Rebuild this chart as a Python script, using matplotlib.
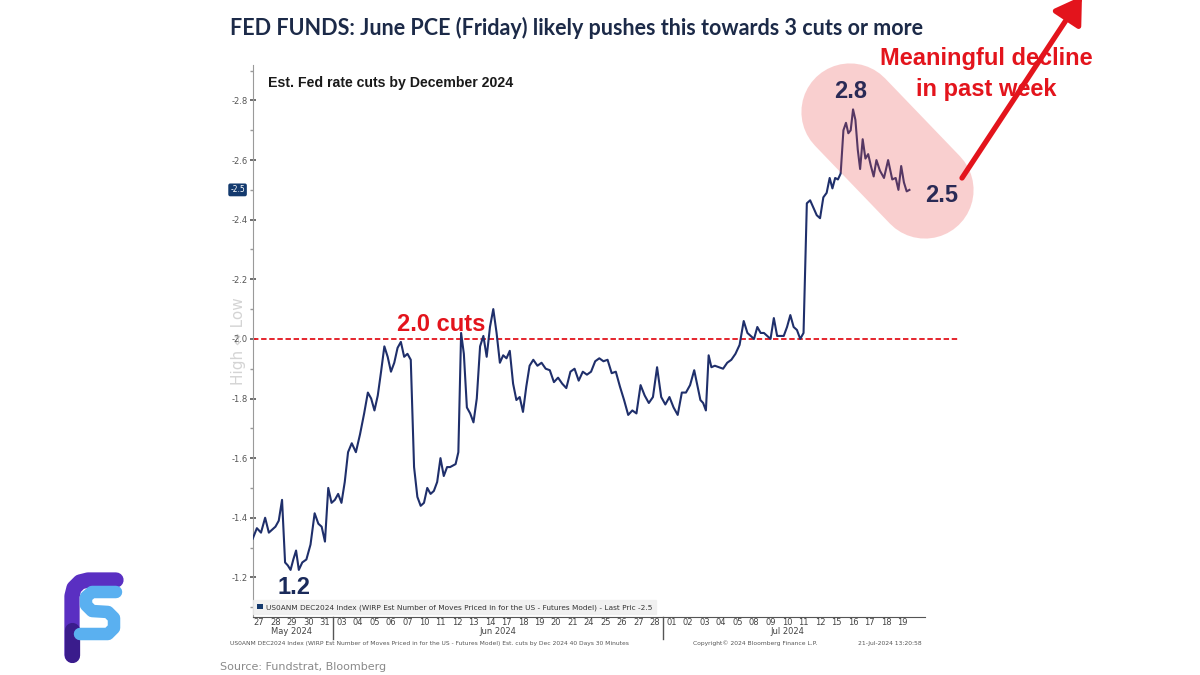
import numpy as np
import matplotlib
matplotlib.use("Agg")
import matplotlib.pyplot as plt
from matplotlib import font_manager
from matplotlib.lines import Line2D
from matplotlib.patches import FancyArrowPatch, Patch
import matplotlib.transforms as mtransforms

# trading days on the x axis (30 min bars, 40 days)
day_labels = ['27', '28', '29', '30', '31',
              '03', '04', '05', '06', '07', '10', '11', '12', '13', '14',
              '17', '18', '19', '20', '21', '24', '25', '26', '27', '28',
              '01', '02', '03', '04', '05', '08', '09', '10', '11', '12',
              '15', '16', '17', '18', '19']
months = ['May 2024', 'Jun 2024', 'Jul 2024']
month_days = [5, 20, 15]

# est. number of cuts priced by Dec 2024, readings through each day
cuts_by_day = [
    [1.33, 1.365, 1.35, 1.40],
    [1.35, 1.36, 1.37, 1.39, 1.46],
    [1.25, 1.24, 1.225, 1.26, 1.29, 1.225],
    [1.25, 1.26, 1.31, 1.415],
    [1.38, 1.37, 1.32, 1.50, 1.45],
    [1.46, 1.48, 1.45, 1.52, 1.62],
    [1.65, 1.62, 1.68, 1.75],
    [1.82, 1.80, 1.76, 1.81, 1.89],
    [1.975, 1.94, 1.89, 1.92, 1.97],
    [1.99, 1.94, 1.95, 1.93, 1.57],
    [1.47, 1.44, 1.45, 1.50, 1.48],
    [1.49, 1.52, 1.60, 1.54, 1.57],
    [1.57, 1.575, 1.58, 1.62, 2.02, 1.95],
    [1.77, 1.75, 1.72, 1.80, 1.975],
    [2.01, 1.94, 2.04, 2.10, 2.02],
    [1.92, 1.945, 1.935, 1.96, 1.85],
    [1.795, 1.805, 1.755, 1.84, 1.91],
    [1.93, 1.91, 1.92, 1.90],
    [1.895, 1.855, 1.87, 1.85],
    [1.835, 1.89, 1.90, 1.86],
    [1.89, 1.88, 1.89, 1.925],
    [1.935, 1.925, 1.93, 1.885],
    [1.89, 1.84, 1.795, 1.745],
    [1.76, 1.75, 1.845, 1.81],
    [1.785, 1.805, 1.905, 1.805],
    [1.78, 1.805, 1.77, 1.745],
    [1.82, 1.82, 1.845, 1.895],
    [1.84, 1.795, 1.785, 1.76, 1.945, 1.905],
    [1.91, 1.905, 1.90, 1.92],
    [1.93, 1.95, 1.98, 2.06],
    [2.02, 2.01, 2.00, 2.04, 2.02],
    [2.02, 2.01, 2.00, 2.07, 2.01],
    [2.01, 2.01, 2.04, 2.08, 2.04],
    [2.03, 2.00, 2.02, 2.455, 2.465],
    [2.44, 2.415, 2.405, 2.475, 2.49],
    [2.54, 2.505, 2.54, 2.535, 2.555, 2.70],
    [2.725, 2.69, 2.70, 2.77, 2.735, 2.635, 2.57],
    [2.67, 2.605, 2.62, 2.58, 2.545, 2.60],
    [2.565, 2.54, 2.60, 2.535],
    [2.54, 2.50, 2.58, 2.525, 2.495, 2.50],
]
last_price = -2.5
ref_level = -2.0

available = {f.name for f in font_manager.fontManager.ttflist}
narrow = 'Liberation Sans Narrow' if 'Liberation Sans Narrow' in available else 'Liberation Sans'

NAVY = '#1f2f6b'
RED = '#e3141c'

# spread the readings of each day evenly through that day
t, v = [], []
for i, vals in enumerate(cuts_by_day):
    n = len(vals)
    for j, val in enumerate(vals):
        t.append(i + (j + 0.5) / n)
        v.append(-val)   # Bloomberg index is negative

W, H = 1200, 675
fig = plt.figure(figsize=(12, 6.75), dpi=100)
fig.patch.set_facecolor('white')


def fx(px):
    return px / W


def fy(py):
    return 1 - py / H


ax = fig.add_axes([fx(253), fy(617), fx(925) - fx(253), fy(65) - fy(617)])
ax.plot(t, v, color=NAVY, lw=1.5, zorder=3)
ax.set_xlim(0.14, 40.86)
ax.set_ylim(-1.067, -2.919)

ax.axhline(ref_level, xmin=0, xmax=1.05, color=RED, lw=1.3, ls=(0, (3, 1.5)),
           clip_on=False, zorder=2)

for s in ['top', 'right']:
    ax.spines[s].set_visible(False)
ax.spines['left'].set_color('#9a9a9a')
ax.spines['bottom'].set_color('#555555')

ax.set_yticks(np.arange(-2.8, -1.1, 0.2))
ax.set_yticklabels([f'{x:.1f}' for x in np.arange(-2.8, -1.1, 0.2)])
ax.set_yticks(np.arange(-2.9, -1.0, 0.2), minor=True)
ax.tick_params(axis='y', which='major', direction='inout', length=5, width=1.2,
               color='#555555', labelsize=6, labelcolor='#555555', pad=1)
ax.tick_params(axis='y', which='minor', direction='out', length=2.5, width=1,
               color='#9a9a9a')

ax.set_xticks(np.arange(len(day_labels)) + 0.5)
ax.set_xticklabels(day_labels)
ax.tick_params(axis='x', length=0, labelsize=6, labelcolor='#444444', pad=0.5)

# month labels and separators
trans = mtransforms.blended_transform_factory(ax.transData, ax.transAxes)
start = 0
for name, n in zip(months, month_days):
    ax.text(start + n / 2, -0.019, name, transform=trans, ha='center', va='top',
            fontsize=6, color='#444444')
    if start > 0:
        ax.plot([start, start], [0, -0.04], transform=trans, color='#555555',
                lw=1, clip_on=False)
    start += n

# last price badge
ax.text(-0.012, last_price, f'{last_price:.1f}',
        transform=mtransforms.blended_transform_factory(ax.transAxes, ax.transData),
        ha='right', va='center', fontsize=5.5, color='white',
        bbox=dict(boxstyle='round,pad=0.25', fc='#143a6e', ec='none'))

ax.text(-0.022, 0.5, 'High \u21d4 Low', transform=ax.transAxes, rotation=90,
        ha='center', va='center', fontsize=11, color='#d4d4d4', family='DejaVu Sans',
        zorder=0)

ax.text(0.023, 0.98, 'Est. Fed rate cuts by December 2024', transform=ax.transAxes,
        ha='left', va='top', fontsize=10.2, fontweight='bold', family=narrow, color='#1a1a1a')

leg = ax.legend(handles=[Patch(facecolor='#143a6e', edgecolor='none')],
                labels=['US0ANM DEC2024 Index (WIRP Est Number of Moves Priced in for the US - Futures Model) - Last Pric -2.5'],
                loc='lower left', bbox_to_anchor=(0.0, 0.005), fontsize=5.3, frameon=True,
                fancybox=False, handlelength=0.8, handleheight=0.8, handletextpad=0.4,
                borderpad=0.5, borderaxespad=0)
leg.get_frame().set_facecolor('#eeeeee')
leg.get_frame().set_edgecolor('#eeeeee')
for txt in leg.get_texts():
    txt.set_color('#333333')

# annotations on the chart
fig.text(fx(294), fy(588), '1.2', ha='center', va='center', fontsize=17,
         fontweight='bold', color='#1a2a5a', family='Liberation Sans')
fig.text(fx(441), fy(325), '2.0 cuts', ha='center', va='center', fontsize=17,
         fontweight='bold', color=RED, family=narrow)

# highlight pill over last week
pill = Line2D([fx(850), fx(925)], [fy(112), fy(190)], transform=fig.transFigure,
              lw=70, color=(235 / 255, 80 / 255, 80 / 255), alpha=0.27,
              solid_capstyle='round', zorder=5)
fig.add_artist(pill)
fig.text(fx(851), fy(92), '2.8', ha='center', va='center', fontsize=17,
         fontweight='bold', color='#2a2a55', family='Liberation Sans', zorder=6)
fig.text(fx(942), fy(195), '2.5', ha='center', va='center', fontsize=17,
         fontweight='bold', color='#2a2a55', family='Liberation Sans', zorder=6)

fig.text(fx(986), fy(74), 'Meaningful decline\nin past week', ha='center', va='center',
         fontsize=17, fontweight='bold', color=RED, family=narrow,
         linespacing=1.45, zorder=6)

arrow = FancyArrowPatch((fx(962), fy(178)), (fx(1082), fy(-4)),
                        transform=fig.transFigure, arrowstyle='-|>,head_length=16,head_width=10',
                        color=RED, lw=3.8, zorder=7, shrinkA=0, shrinkB=0)
fig.add_artist(arrow)

# headline, footers
fig.text(fx(230), fy(28), 'FED FUNDS: June PCE (Friday) likely pushes this towards 3 cuts or more',
         ha='left', va='center', fontsize=15.5, fontweight='bold', color='#1c2a48', family='Lato')
fig.text(fx(230), fy(643), 'US0ANM DEC2024 Index (WIRP Est Number of Moves Priced in for the US - Futures Model) Est. cuts by Dec 2024 40 Days 30 Minutes',
         ha='left', va='center', fontsize=4.3, color='#555555')
fig.text(fx(693), fy(643), 'Copyright\u00a9 2024 Bloomberg Finance L.P.',
         ha='left', va='center', fontsize=4.3, color='#555555')
fig.text(fx(858), fy(643), '21-Jul-2024 13:20:58',
         ha='left', va='center', fontsize=4.3, color='#555555')
fig.text(fx(220), fy(667), 'Source: Fundstrat, Bloomberg', ha='left', va='center',
         fontsize=8, color='#8a8a8a')


# logo
def logo_stroke(points, color, lw):
    xs = [fx(p[0]) for p in points]
    ys = [fy(p[1]) for p in points]
    fig.add_artist(Line2D(xs, ys, transform=fig.transFigure, color=color, lw=lw,
                          solid_capstyle='round', solid_joinstyle='round'))


logo_stroke([(72, 655), (72, 596), (74, 588), (80, 582), (88, 580), (116, 580)], '#5a2fc2', 11)
logo_stroke([(72, 655), (72, 630)], '#3a1c8c', 11)
logo_stroke([(116, 592), (92, 592), (86, 597), (86, 605), (92, 611), (108, 612),
             (114, 618), (114, 628), (108, 634), (80, 634)], '#5ab0f0', 9)

fig.savefig('out.png', dpi=100, facecolor='white')
